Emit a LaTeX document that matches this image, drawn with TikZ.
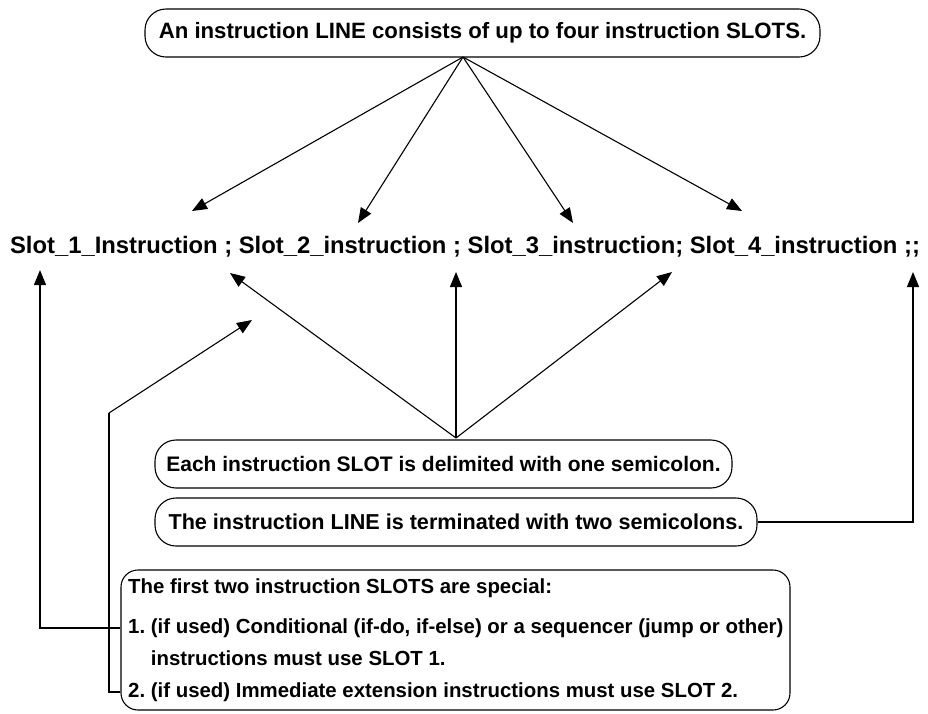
\documentclass[tikz,border=0pt]{standalone}
\usepackage{fontspec}
\setmainfont{Liberation Sans}
\usetikzlibrary{arrows.meta,calc}
\frenchspacing
\begin{document}
\begin{tikzpicture}[x=1pt,y=-1pt,
  capbox/.style={draw,line width=1.1pt,rounded corners=21pt,inner sep=0pt,
    font=\fontsize{21}{25}\selectfont\bfseries},
  bigbox/.style={draw,line width=1.1pt,rounded corners=17pt,inner sep=0pt},
  linetext/.style={anchor=west,inner sep=0pt,font=\fontsize{20.4}{24}\selectfont\bfseries},
  conn/.style={line width=1.3pt,-{Triangle[length=15pt,width=12pt]}},
  thin/.style={line width=1.1pt,-{Triangle[length=15pt,width=12pt]}},
  plain/.style={line width=1.3pt}
]
\useasboundingbox (0,0) rectangle (928,713);

% top box
\node[capbox,minimum width=675pt,minimum height=48pt,font=\fontsize{22.2}{26}\selectfont\bfseries] (top) at (482.5,33)
  {An instruction LINE consists of up to four instruction SLOTS.};
\coordinate (src) at (463,57);

% slot line
\node[inner sep=0pt,font=\fontsize{23.8}{28}\selectfont\bfseries] (slots) at (465,247)
  {Slot\_1\_Instruction ; Slot\_2\_instruction ; Slot\_3\_instruction; Slot\_4\_instruction ;;};

\coordinate (d1) at (192,211);
\coordinate (d2) at (358,223);
\coordinate (d3) at (573,223);
\coordinate (d4) at (742,211);
\foreach \t in {d1,d2,d3,d4} \draw[thin] (src) -- (\t);

% middle boxes
\node[capbox,minimum width=577pt,minimum height=48pt] (each) at (443.5,464)
  {Each instruction SLOT is delimited with one semicolon.};
\node[capbox,minimum width=602pt,minimum height=48pt,font=\fontsize{21.6}{26}\selectfont\bfseries] (term) at (456,522)
  {The instruction LINE is terminated with two semicolons.};

\coordinate (conv) at (456,438);
\coordinate (u2) at (230,273);
\coordinate (u3) at (456,272);
\coordinate (u4) at (672,272);
\coordinate (u5) at (913,272);
\draw[thin] (conv) -- (u2);
\draw[conn] (conv) -- (u3);
\draw[thin] (conv) -- (u4);
\draw[conn] (term.east) -| (u5);

% bottom box
\node[bigbox,minimum width=669pt,minimum height=140pt] (bot) at (455.5,640) {};
\node[linetext] (l0) at (128,588) {The first two instruction SLOTS are special:};
\node[linetext] (l1) at (128,628) {1. (if used) Conditional (if-do, if-else) or a sequencer (jump or other)};
\node[linetext] (l1b) at (128,658) {\phantom{1. }instructions must use SLOT 1.};
\node[linetext] (l2) at (128,692) {2. (if used) Immediate extension instructions must use SLOT 2.};

\coordinate (a1) at (bot.west |- l1.west);
\coordinate (a2) at (bot.west |- l2.west);
\coordinate (u1) at (40,270);
\coordinate (k2) at (109,413);
\coordinate (t2) at (252,320);
\draw[conn] (a1) -| (u1);
\draw[plain] (a2) -- (a2 -| k2) -- (k2);
\draw[thin] (k2) -- (t2);
\end{tikzpicture}
\end{document}
